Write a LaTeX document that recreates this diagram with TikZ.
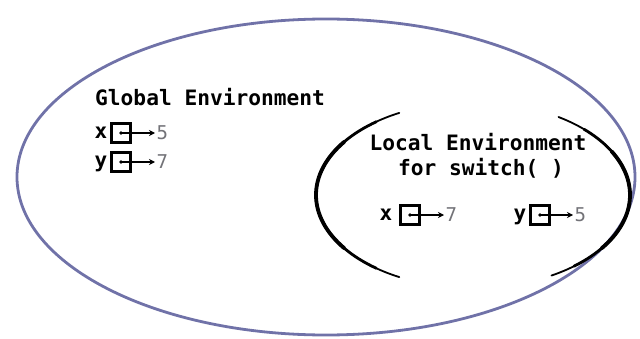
\documentclass[tikz,border=0pt]{standalone}
\usepackage{fontspec}
\setmonofont{DejaVu Sans Mono}
\usetikzlibrary{arrows.meta}
\definecolor{envblue}{RGB}{112,114,168}
\definecolor{valgray}{RGB}{115,115,120}
\begin{document}
\begin{tikzpicture}[x=1pt,y=1pt,
  lbl/.style={font=\ttfamily\bfseries\fontsize{21.2}{25}\selectfont, inner sep=0pt},
  var/.style={font=\ttfamily\bfseries\fontsize{21}{24}\selectfont, inner sep=0pt},
  cell/.style={draw, line width=2.3pt, minimum size=19pt, inner sep=0pt},
  val/.style={font=\ttfamily\fontsize{19}{20}\selectfont, text=valgray, inner sep=1.5pt},
  ptr/.style={line width=2pt, -{Stealth[length=6pt,width=6pt]}},
  env/.style={line width=1.8pt, line cap=round},
  envmid/.style={line width=2.8pt, line cap=round},
  envcore/.style={line width=3.8pt, line cap=round},
]
\useasboundingbox (0,0) rectangle (640,338);
% outer (global) environment
\draw[envblue, line width=2.8pt] (326,161) ellipse [x radius=309, y radius=158];
% inner (local) environment arcs (tapered)
\draw[env] (473,143) ++(118:157 and 93) arc[start angle=118, end angle=242, x radius=157, y radius=93];
\draw[envmid] (473,143) ++(128:157 and 93) arc[start angle=128, end angle=232, x radius=157, y radius=93];
\draw[envcore] (473,143) ++(145:157 and 93) arc[start angle=145, end angle=215, x radius=157, y radius=93];
\draw[env] (473,143) ++(57:157 and 93) arc[start angle=57, end angle=-60, x radius=157, y radius=93];
\draw[envmid] (473,143) ++(45:157 and 93) arc[start angle=45, end angle=-50, x radius=157, y radius=93];
\draw[envcore] (473,143) ++(28:157 and 93) arc[start angle=28, end angle=-35, x radius=157, y radius=93];

% titles
\node[lbl, anchor=base west] (gtitle) at (95,233) {Global Environment};
\node[lbl, anchor=base] (ltitle1) at (478,188) {Local Environment};
\node[lbl, anchor=base] (ltitle2) at (481,163) {for switch( )};

% global variables
\node[cell] (gx) at (121,205) {};
\node[var, anchor=base] (gxl) at (101,199.5) {x};
\node[val, anchor=base west] (gxv) at (155,198.5) {5};
\node[cell] (gy) at (121,176) {};
\node[var, anchor=base] (gyl) at (101,170.5) {y};
\node[val, anchor=base west] (gyv) at (155,169.5) {7};

% local variables
\node[cell] (lx) at (410,123) {};
\node[var, anchor=base] (lxl) at (386,117.5) {x};
\node[val, anchor=base west] (lxv) at (444,116.5) {7};
\node[cell] (ly) at (540,123) {};
\node[var, anchor=base] (lyl) at (520,117.5) {y};
\node[val, anchor=base west] (lyv) at (573,116.5) {5};

\foreach \c/\v in {gx/gxv, gy/gyv, lx/lxv, ly/lyv}{
  \fill (\c.center) circle (1.8pt);
  \draw[ptr] (\c.center) -- (\v.west |- \c.center);
}
\end{tikzpicture}
\end{document}
